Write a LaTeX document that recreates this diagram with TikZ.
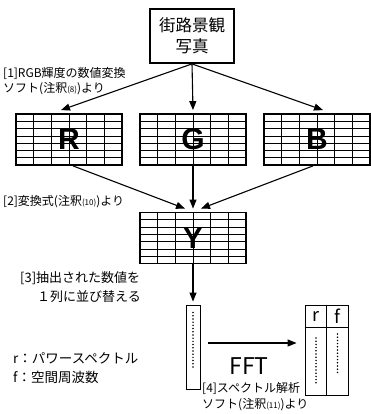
\documentclass[tikz,border=0pt]{standalone}
\usepackage{fontspec}
\setmainfont{Noto Sans CJK JP}
\newfontfamily\heavyfont{Liberation Sans}
\usetikzlibrary{arrows.meta,calc}
\newcommand{\smallpar}[1]{{\fontsize{8}{9}\selectfont(#1)}}
\begin{document}
\begin{tikzpicture}[x=1pt,y=-1pt,
  arr/.style={line width=1.1pt,-{Triangle[length=9pt,width=7pt]}},
  lbl/.style={anchor=west,inner sep=0pt,font=\fontsize{12}{14}\selectfont},
  topbox/.style={draw,line width=1.8pt,minimum width=84pt,minimum height=54pt,align=center,
    font=\fontsize{16.5}{21}\selectfont,inner sep=0pt},
  gridbox/.style={draw,line width=1.8pt,minimum width=106pt,minimum height=51pt,inner sep=0pt,
    font=\heavyfont\bfseries\fontsize{30}{30}\selectfont,
    path picture={
      \foreach \i in {1,...,5}{
        \draw[line width=0.6pt]
          ($(path picture bounding box.north west)!{\i/6}!(path picture bounding box.north east)$) --
          ($(path picture bounding box.south west)!{\i/6}!(path picture bounding box.south east)$);}
      \foreach \j in {1,...,6}{
        \draw[line width=0.6pt]
          ($(path picture bounding box.north west)!{\j/7}!(path picture bounding box.south west)$) --
          ($(path picture bounding box.north east)!{\j/7}!(path picture bounding box.south east)$);}
    }},
  thinbox/.style={draw,line width=0.9pt,inner sep=0pt},
  dots/.style={line width=1.7pt,line cap=round,dash pattern=on 0pt off 3.2pt}
]
\useasboundingbox (0,0) rectangle (371,414);

\node[topbox] (photo) at (192,36) {街路景観\\写真};

\node[lbl] (l1a) at (3,73) {[1]RGB輝度の数値変換};
\node[lbl] (l1b) at (3,89) {ソフト(注釈\smallpar{8})より};

\node[gridbox] (R) at (69,139.5) {R};
\node[gridbox] (G) at (193,139.5) {G};
\node[gridbox] (B) at (317,139.5) {B};

\draw[arr] (photo.south) -- ($(R.north)+(-8,-3)$);
\draw[arr] (photo.south) -- ($(G.north)+(0,-3)$);
\draw[arr] (photo.south) -- ($(B.north)+(6,-3)$);

\node[lbl] (l2) at (3,202) {[2]変換式(注釈\smallpar{10})より};

\node[gridbox] (Y) at (193,238) {Y};

\draw[arr] ($(R.south)+(4,0)$) -- ($(Y.north)+(-8,-3)$);
\draw[arr] (G.south) -- ($(Y.north)+(0,-3)$);
\draw[arr] ($(B.south)+(-4,0)$) -- ($(Y.north)+(8,-3)$);

\node[lbl,font=\fontsize{13}{15}\selectfont] (l3a) at (20,278) {[3]抽出された数値を};
\node[lbl,font=\fontsize{13}{15}\selectfont] (l3b) at (37,297) {１列に並び替える};

\node[thinbox,minimum width=14pt,minimum height=84pt] (col) at (193,347) {};
\draw[arr] (Y.south) -- ($(col.north)+(0,-3)$);
\draw[dots] ($(col.north)+(0,8)$) -- ($(col.north)+(0,64)$);

\node[thinbox,minimum width=43pt,minimum height=90pt] (tab) at (326.5,350) {};
\coordinate (hdr) at (0,327);
\draw[line width=0.9pt] (tab.west |- hdr) -- (tab.east |- hdr);
\draw[line width=0.9pt] (tab.north) -- (tab.south);
\node[font=\fontsize{18}{18}\selectfont,inner sep=0pt] (rh) at (316,316) {r};
\node[font=\fontsize{18}{18}\selectfont,inner sep=0pt] (fh) at (337.5,316) {f};
\draw[dots] (rh |- 0,338) -- (rh |- 0,385);
\draw[dots] (fh |- 0,334) -- (fh |- 0,375);

\coordinate (ffty) at (0,343);
\draw[arr,shorten <=8pt,shorten >=8pt] (col.east |- ffty) -- (tab.west |- ffty);
\node[font=\fontsize{23}{23}\selectfont,inner sep=0pt] (fft) at (249,366) {FFT};

\node[lbl] (l4a) at (202,388) {[4]スペクトル解析};
\node[lbl] (l4b) at (202,405) {ソフト(注釈\smallpar{11})より};

\node[lbl,font=\fontsize{13.5}{15}\selectfont] (r) at (13,358) {r：パワースペクトル};
\node[lbl,font=\fontsize{13.5}{15}\selectfont] (f) at (13,377) {f：空間周波数};
\end{tikzpicture}
\end{document}
